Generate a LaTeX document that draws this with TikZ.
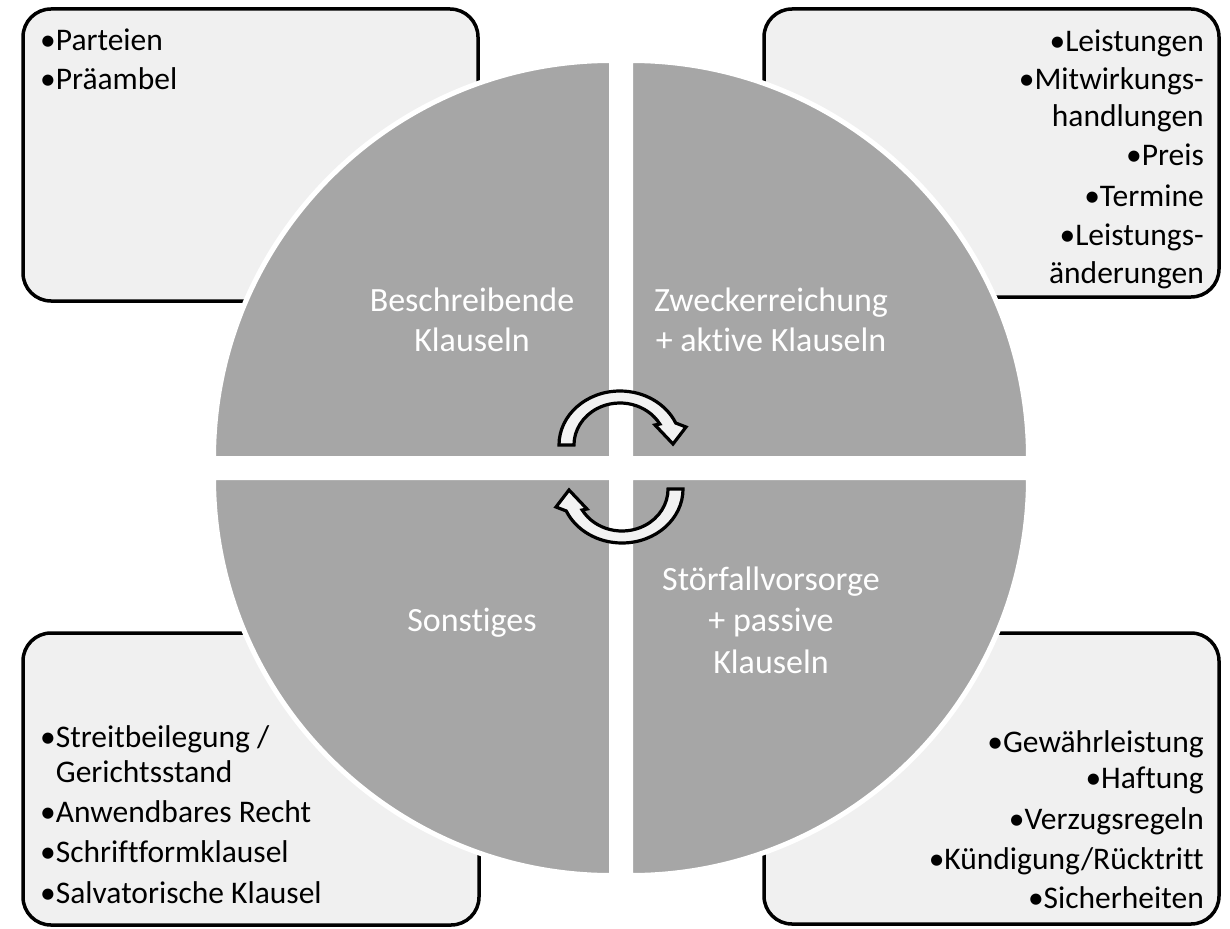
\documentclass[tikz,border=0pt]{standalone}
\usepackage{fontspec}
\setmainfont{Carlito}[Ligatures={CommonOff}]
\definecolor{quadgrey}{HTML}{A6A6A6}
\definecolor{boxfill}{HTML}{F0F0F0}
\definecolor{arrowfill}{HTML}{F2F2F2}
\newcommand\myqfont{\fontsize{34}{40}\selectfont}
\newcommand\myboxfont{\fontsize{31.5}{38}\selectfont}
\tikzset{
  box/.style={draw=black, line width=3.5pt, fill=boxfill, rounded corners=28pt},
  quad/.style={fill=quadgrey, draw=white, line width=5pt},
  carrow/.style={fill=arrowfill, draw=black, line width=3.2pt, line join=miter},
  qtext/.style={text=white, font=\myqfont, inner sep=0pt, anchor=base},
  ltext/.style={font=\myboxfont, inner sep=0pt, anchor=base west},
  rtext/.style={font=\myboxfont, inner sep=0pt, anchor=base east}
}
\begin{document}
\begin{tikzpicture}[x=1pt,y=1pt]
\useasboundingbox (0,0) rectangle (1230,-928);
% side boxes
\draw[box] (23,-9) rectangle (478,-301);
\draw[box] (764,-9) rectangle (1219,-297);
\draw[box] (23,-633) rectangle (479,-925);
\draw[box] (764,-633) rectangle (1219,-924);
% quadrants
\path[quad] (611.5,-458.5) -- (213.5,-458.5) arc[start angle=180,end angle=90,radius=398] -- cycle;
\path[quad] (630.5,-458.5) -- (630.5,-60.5) arc[start angle=90,end angle=0,radius=398] -- cycle;
\path[quad] (611.5,-477.5) -- (213.5,-477.5) arc[start angle=180,end angle=270,radius=398] -- cycle;
\path[quad] (630.5,-477.5) -- (1028.5,-477.5) arc[start angle=0,end angle=-90,radius=398] -- cycle;
% circular arrows
\path[carrow] (559,-445) arc[start angle=180,end angle=24,x radius=61,y radius=54]
  -- (686,-427) -- (673,-444) -- (655,-425) -- (659.8,-424)
  arc[start angle=30,end angle=180,x radius=46,y radius=42] -- cycle;
\begin{scope}[rotate around={180:(621,-467)}]
\path[carrow] (559,-445) arc[start angle=180,end angle=24,x radius=61,y radius=54]
  -- (686,-427) -- (673,-444) -- (655,-425) -- (659.8,-424)
  arc[start angle=30,end angle=180,x radius=46,y radius=42] -- cycle;
\end{scope}
% quadrant labels
\node[qtext] (q1a) at (472,-311) {Beschreibende};
\node[qtext] (q1b) at (472,-351) {Klauseln};
\node[qtext] (q2a) at (771,-311) {Zweckerreichung};
\node[qtext] (q2b) at (771,-351) {+ aktive Klauseln};
\node[qtext] (q3a) at (472,-631) {Sonstiges};
\node[qtext] (q4a) at (771,-590) {Störfallvorsorge};
\node[qtext] (q4b) at (771,-631) {+ passive};
\node[qtext] (q4c) at (771,-673) {Klauseln};
% top-left box
\node[ltext] (tl1) at (40,-51) {•Parteien};
\node[ltext] (tl2) at (40,-90) {•Präambel};
% top-right box
\node[rtext] (tr1) at (1204,-52) {•Leistungen};
\node[rtext] (tr2) at (1204,-90) {•Mitwirkungs-};
\node[rtext] (tr3) at (1204,-127) {handlungen};
\node[rtext] (tr4) at (1204,-166) {•Preis};
\node[rtext] (tr5) at (1204,-206) {•Termine};
\node[rtext] (tr6) at (1204,-245) {•Leistungs-};
\node[rtext] (tr7) at (1204,-283) {änderungen};
% bottom-left box
\node[ltext] (bl1) at (40,-747) {•Streitbeilegung /};
\node[ltext] (bl2) at (40,-782) {\phantom{•}Gerichtsstand};
\node[ltext] (bl3) at (40,-822) {•Anwendbares Recht};
\node[ltext] (bl4) at (40,-862) {•Schriftformklausel};
\node[ltext] (bl5) at (40,-903) {•Salvatorische Klausel};
% bottom-right box
\node[rtext] (br1) at (1204,-752) {•Gewährleistung};
\node[rtext] (br2) at (1204,-788) {•Haftung};
\node[rtext] (br3) at (1204,-829) {•Verzugsregeln};
\node[rtext] (br4) at (1204,-869) {•Kündigung/Rücktritt};
\node[rtext] (br5) at (1204,-908) {•Sicherheiten};
\end{tikzpicture}
\end{document}
